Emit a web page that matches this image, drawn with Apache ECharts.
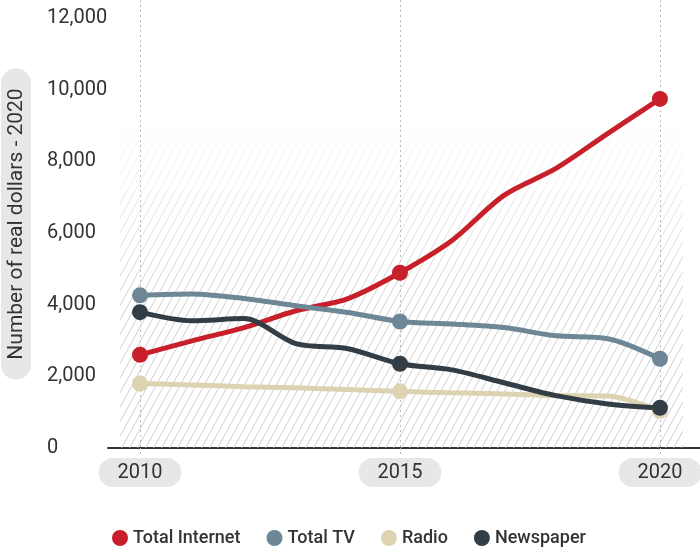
<!DOCTYPE html>
<html>
<head>
<meta charset="utf-8">
<script src="https://cdn.jsdelivr.net/npm/echarts@6/dist/echarts.min.js"></script>
<style>html,body{margin:0;padding:0;background:#fff}#c{width:700px;height:547px}</style>
</head>
<body>
<div id="c"></div>
<script>
// ---- data ----
const years = [2010, 2011, 2012, 2013, 2014, 2015, 2016, 2017, 2018, 2019, 2020];
const labelYears = [2010, 2015, 2020];
const yTicks = [0, 2000, 4000, 6000, 8000, 10000, 12000];
const seriesNames = ['Total Internet', 'Total TV', 'Radio', 'Newspaper'];
const totalInternet = [2600, 2990, 3360, 3830, 4170, 4890, 5790, 7050, 7800, 8780, 9740];
const totalTV = [4260, 4300, 4170, 3970, 3780, 3530, 3460, 3360, 3130, 3050, 2490];
const radio = [1800, 1760, 1710, 1680, 1630, 1580, 1540, 1510, 1460, 1450, 1040];
const newspaper = [3790, 3550, 3610, 2910, 2770, 2350, 2180, 1820, 1460, 1230, 1120];
const colors = ['#c8202a', '#6d8796', '#ddd3b0', '#323d45'];

// ---- hatch pattern (decoration) ----
function makeHatch() {
  const W = 8, H = 547;
  const cv = document.createElement('canvas');
  cv.width = W; cv.height = H;
  const ctx = cv.getContext('2d');
  const g = ctx.createLinearGradient(0, 0, 0, H);
  g.addColorStop(0, 'rgba(200,200,200,0)');
  g.addColorStop(120 / H, 'rgba(200,200,200,0.05)');
  g.addColorStop(300 / H, 'rgba(200,200,200,0.85)');
  g.addColorStop(1, 'rgba(200,200,200,0.95)');
  ctx.strokeStyle = g;
  ctx.lineWidth = 1;
  const k = 0.55;
  for (let c = -H * k - W * 2; c < W * 2; c += W) {
    ctx.beginPath();
    ctx.moveTo(c, H);
    ctx.lineTo(c + H * k, 0);
    ctx.stroke();
  }
  return cv;
}

const seriesData = [totalInternet, totalTV, radio, newspaper];
const chart = echarts.init(document.getElementById('c'));
const font = 'Roboto, "Noto Sans", sans-serif';

const series = seriesData.map((arr, i) => ({
  name: seriesNames[i],
  type: 'line',
  z: 3,
  smooth: 0.3,
  data: years.map((y, j) => [y, arr[j]]),
  symbol: 'circle',
  showAllSymbol: true,
  symbolSize: (v) => labelYears.indexOf(v[0]) >= 0 ? 16 : 0,
  lineStyle: { color: colors[i], width: 5 },
  itemStyle: { color: colors[i] },
  emphasis: { disabled: true }
}));
series.unshift({
  type: 'line',
  z: 1,
  data: [],
  silent: true,
  markArea: {
    silent: true,
    itemStyle: { color: { image: makeHatch(), repeat: 'repeat' } },
    data: [[{ xAxis: 2009.62, yAxis: 0 }, { xAxis: 2020.44, yAxis: 9000 }]]
  }
});

chart.setOption({
  animation: false,
  color: colors,
  grid: { left: 108, right: 0, top: 0, bottom: 99, outerBoundsMode: 'none', containLabel: false },
  xAxis: {
    type: 'value',
    min: 2009.385,
    max: 2020.77,
    axisLine: { show: true, onZero: true, lineStyle: { color: '#333', width: 2 } },
    axisTick: { show: true, customValues: labelYears, length: 8, lineStyle: { color: '#bbb', type: [2, 2] } },
    splitLine: { show: true, lineStyle: { color: '#bbb', type: [2, 3], width: 1 } },
    axisLabel: {
      customValues: labelYears,
      margin: 10,
      color: '#333',
      fontFamily: font,
      fontSize: 20,
      backgroundColor: '#e6e7e8',
      borderRadius: 16,
      padding: [5, 19, 4, 19],
      formatter: (v) => String(v)
    }
  },
  yAxis: {
    type: 'value',
    min: 0,
    max: 12500,
    axisLine: { show: false },
    axisTick: { show: false },
    splitLine: { show: false },
    axisLabel: {
      customValues: yTicks,
      align: 'left',
      margin: 61,
      color: '#333',
      fontFamily: font,
      fontSize: 20,
      formatter: (v) => v.toLocaleString('en-US')
    },
    name: 'Number of real dollars - 2020',
    nameLocation: 'middle',
    nameGap: 77,
    nameTextStyle: {
      color: '#333',
      fontFamily: font,
      fontSize: 21,
      backgroundColor: '#e6e7e8',
      borderRadius: 15,
      padding: [5, 20, 4, 20]
    }
  },
  legend: {
    data: seriesNames,
    left: 107,
    top: 524,
    icon: 'circle',
    itemWidth: 16,
    itemHeight: 16,
    itemGap: 26,
    textStyle: { color: '#333', fontFamily: font, fontSize: 18, fontWeight: 500 }
  },
  series: series
});
</script>
</body>
</html>
